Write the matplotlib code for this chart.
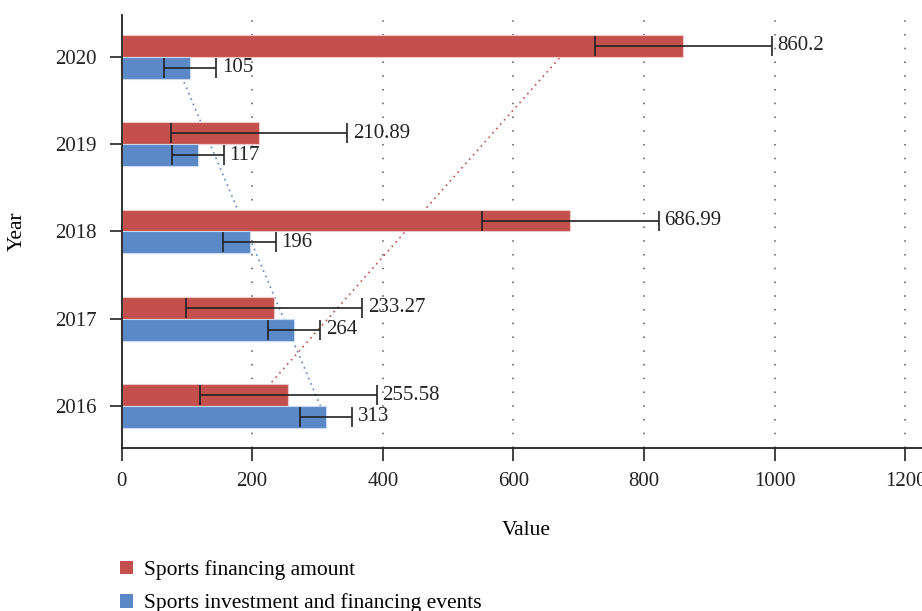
import numpy as np
import matplotlib.pyplot as plt
from matplotlib.patches import Patch

# ------------------------------
# DATA
# ------------------------------
years = ["2016", "2017", "2018", "2019", "2020"]
financing_amount = [255.58, 233.27, 686.99, 210.89, 860.2]
financing_events = [313, 264, 196, 117, 105]
amount_err = [135, 135, 135, 135, 135]
events_err = [40, 40, 40, 40, 40]

RED = "#C3504C"
BLUE = "#5B88C6"

plt.rcParams["font.family"] = ["Liberation Serif", "DejaVu Serif"]
plt.rcParams["font.size"] = 15

fig = plt.figure(figsize=(9.22, 6.11), dpi=100)
ax = fig.add_axes([0.1318, 0.2668, 0.8786, 0.7087])

y = np.arange(len(years))
h = 0.25

# ------------------------------
# TREND LINES (behind bars)
# ------------------------------
for vals, off, col in [(financing_amount, h / 2, RED), (financing_events, -h / 2, BLUE)]:
    k, b = np.polyfit(y, vals, 1)
    ax.plot(k * y + b, y + off, linestyle=(0, (1, 2.5)), color=col, lw=1.2, zorder=1)

# ------------------------------
# BARS + ERROR BARS
# ------------------------------
ax.barh(y + h / 2, financing_amount, height=h, color=RED, edgecolor="#F2C9C8",
        linewidth=0.8, zorder=2)
ax.barh(y - h / 2, financing_events, height=h, color=BLUE, edgecolor="#C9D8EE",
        linewidth=0.8, zorder=2)

ax.errorbar(financing_amount, y + h / 2, xerr=amount_err, fmt="none",
            ecolor="#222222", elinewidth=1.2, capsize=7, capthick=1.2, zorder=3)
ax.errorbar(financing_events, y - h / 2, xerr=events_err, fmt="none",
            ecolor="#222222", elinewidth=1.2, capsize=7, capthick=1.2, zorder=3)

for i in range(len(years)):
    ax.annotate(f"{financing_amount[i]:g}", (financing_amount[i] + amount_err[i], y[i] + h / 2),
                xytext=(4, 0), textcoords="offset points", va="center", ha="left",
                color="#222222", fontsize=15)
    ax.annotate(f"{financing_events[i]:g}", (financing_events[i] + events_err[i], y[i] - h / 2),
                xytext=(4, 0), textcoords="offset points", va="center", ha="left",
                color="#222222", fontsize=15)

# ------------------------------
# AXES STYLE
# ------------------------------
ax.set_xlim(0, 1240)
ax.set_ylim(-0.48, 4.48)
ax.set_xticks([0, 200, 400, 600, 800, 1000, 1200])
ax.set_yticks(y)
ax.set_yticklabels(years)
ax.tick_params(axis="both", direction="out", length=9, width=1.2, colors="#222222",
               labelsize=15)
ax.tick_params(axis="x", pad=8)
ax.tick_params(axis="y", pad=9)

for gx in [200, 400, 600, 800, 1000, 1200]:
    ax.axvline(gx, color="#555555", linestyle=(0, (1, 8)), lw=1.1, zorder=0)

for s in ["top", "right"]:
    ax.spines[s].set_visible(False)
for s in ["left", "bottom"]:
    ax.spines[s].set_linewidth(1.3)
    ax.spines[s].set_color("#222222")

ax.set_xlabel("Value", fontsize=15.5, labelpad=22)
ax.set_ylabel("Year", fontsize=15.5, labelpad=20)

handles = [Patch(facecolor=RED, edgecolor="none"), Patch(facecolor=BLUE, edgecolor="none")]
fig.legend(handles, ["Sports financing amount", "Sports investment and financing events"],
           loc="upper left", bbox_to_anchor=(0.130, 0.083), frameon=False,
           handlelength=0.6, handleheight=0.6, handletextpad=0.52, labelspacing=0.62,
           fontsize=15.5, borderpad=0, borderaxespad=0)

fig.savefig("out.png", dpi=100)
